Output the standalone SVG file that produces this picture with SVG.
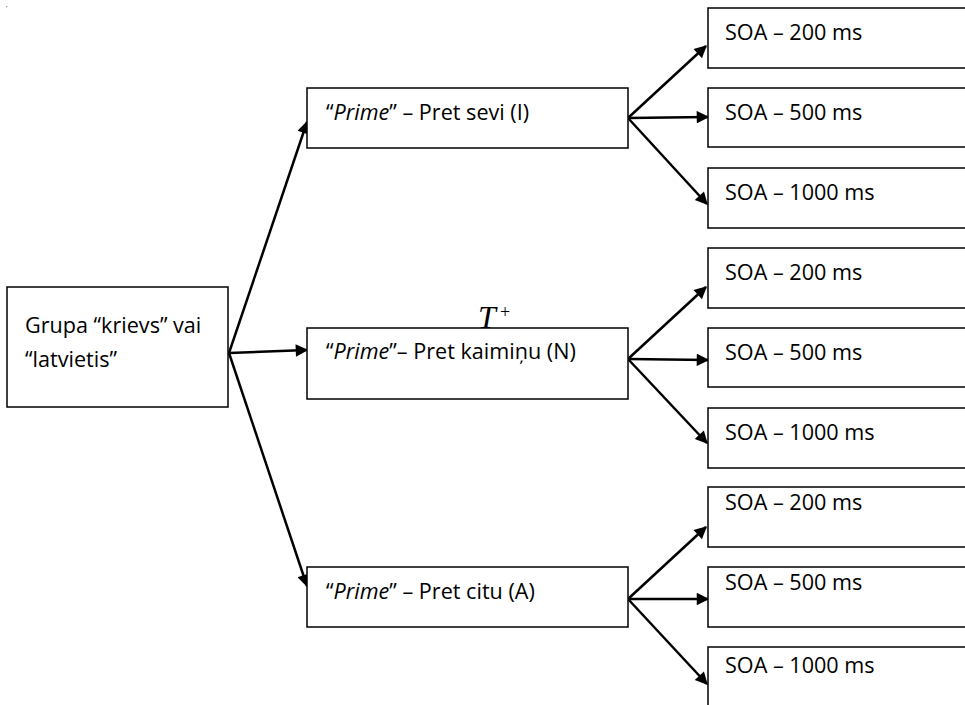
<svg xmlns="http://www.w3.org/2000/svg" width="965" height="705" viewBox="0 0 965 705">
<style>
.box{fill:#fff;stroke:#000;stroke-width:1.5}
.t{font-family:"Open Sans","Liberation Sans",sans-serif;font-size:21.6px;fill:#000}
.c{stroke:#000;stroke-width:2.5;fill:none;marker-end:url(#ah)}
</style>
<defs>
<marker id="ah" viewBox="0 0 10 10" refX="9" refY="5" markerWidth="5.8" markerHeight="5" orient="auto" markerUnits="strokeWidth">
<path d="M0,0 L10,5 L0,10 z" fill="#000"/>
</marker>
</defs>
<rect x="6" y="6" width="1.2" height="1.2" fill="#888"/>
<g id="connectors">
<line class="c" x1="229" y1="353" x2="307" y2="122"/>
<line class="c" x1="229" y1="353" x2="307" y2="350"/>
<line class="c" x1="229" y1="353" x2="307" y2="586"/>
<line class="c" x1="628" y1="118" x2="706" y2="46"/>
<line class="c" x1="628" y1="118" x2="708" y2="117"/>
<line class="c" x1="628" y1="118" x2="707" y2="204"/>
<line class="c" x1="628" y1="359" x2="706" y2="287"/>
<line class="c" x1="628" y1="359" x2="708" y2="360"/>
<line class="c" x1="628" y1="359" x2="707" y2="443"/>
<line class="c" x1="628" y1="599" x2="706" y2="527"/>
<line class="c" x1="628" y1="599" x2="708" y2="599"/>
<line class="c" x1="628" y1="599" x2="707" y2="684"/>
</g>
<g id="group">
<rect class="box" x="7" y="287" width="221" height="120"/>
<text class="t" x="25" y="333">Grupa “krievs” vai</text>
<text class="t" x="25" y="367">“latvietis”</text>
</g>
<g id="primeI">
<rect class="box" x="307" y="88" width="321" height="60"/>
<text class="t" x="326" y="120">“<tspan font-style="italic">Prime</tspan>” – Pret sevi (I)</text>
</g>
<g id="primeN">
<rect class="box" x="307" y="328" width="321" height="71"/>
<text class="t" x="326" y="359">“<tspan font-style="italic">Prime</tspan>”– Pret kaimiņu (N)</text>
</g>
<g id="label-T">
<text x="478" y="328" font-family="'Liberation Serif',serif" font-style="italic" font-size="32">T</text>
<text x="500" y="318" font-family="'Liberation Serif',serif" font-size="18">+</text>
</g>
<g id="primeA">
<rect class="box" x="307" y="567" width="321" height="60"/>
<text class="t" x="326" y="599">“<tspan font-style="italic">Prime</tspan>” – Pret citu (A)</text>
</g>
<g id="soa-I-200"><rect class="box" x="708" y="8" width="270" height="60"/><text class="t" x="725" y="40">SOA – 200 ms</text></g>
<g id="soa-I-500"><rect class="box" x="708" y="88" width="270" height="59"/><text class="t" x="725" y="120">SOA – 500 ms</text></g>
<g id="soa-I-1000"><rect class="box" x="708" y="168" width="270" height="60"/><text class="t" x="725" y="200">SOA – 1000 ms</text></g>
<g id="soa-N-200"><rect class="box" x="708" y="248" width="270" height="60"/><text class="t" x="725" y="280">SOA – 200 ms</text></g>
<g id="soa-N-500"><rect class="box" x="708" y="328" width="270" height="59"/><text class="t" x="725" y="360">SOA – 500 ms</text></g>
<g id="soa-N-1000"><rect class="box" x="708" y="408" width="270" height="60"/><text class="t" x="725" y="440">SOA – 1000 ms</text></g>
<g id="soa-A-200"><rect class="box" x="708" y="487" width="270" height="60"/><text class="t" x="725" y="510">SOA – 200 ms</text></g>
<g id="soa-A-500"><rect class="box" x="708" y="567" width="270" height="60"/><text class="t" x="725" y="590">SOA – 500 ms</text></g>
<g id="soa-A-1000"><rect class="box" x="708" y="647" width="270" height="80"/><text class="t" x="725" y="673">SOA – 1000 ms</text></g>
</svg>
